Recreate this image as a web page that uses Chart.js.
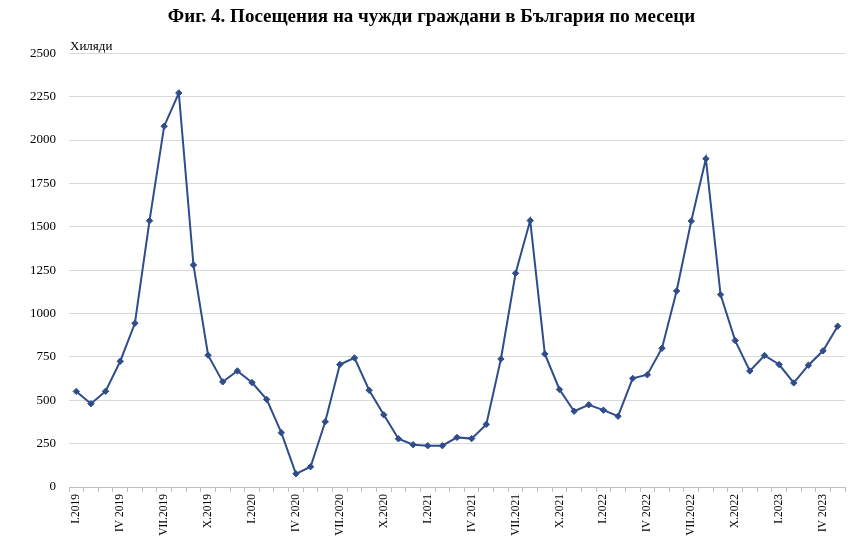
<!DOCTYPE html>
<html>
<head>
<meta charset="utf-8">
<script src="https://cdn.jsdelivr.net/npm/chart.js@4"></script>
<style>
    body { margin: 0; background: #fff; }
    #wrap { width: 863px; height: 547px; position: relative; }
</style>
</head>
<body>
<div id="wrap"><canvas id="visitsChart"></canvas></div>
<script>
// months, Jan 2019 - May 2023
const months = [
    'I.2019', 'II.2019', 'III.2019', 'IV.2019', 'V.2019', 'VI.2019', 'VII.2019', 'VIII.2019', 'IX.2019', 'X.2019', 'XI.2019', 'XII.2019',
    'I.2020', 'II.2020', 'III.2020', 'IV.2020', 'V.2020', 'VI.2020', 'VII.2020', 'VIII.2020', 'IX.2020', 'X.2020', 'XI.2020', 'XII.2020',
    'I.2021', 'II.2021', 'III.2021', 'IV.2021', 'V.2021', 'VI.2021', 'VII.2021', 'VIII.2021', 'IX.2021', 'X.2021', 'XI.2021', 'XII.2021',
    'I.2022', 'II.2022', 'III.2022', 'IV.2022', 'V.2022', 'VI.2022', 'VII.2022', 'VIII.2022', 'IX.2022', 'X.2022', 'XI.2022', 'XII.2022',
    'I.2023', 'II.2023', 'III.2023', 'IV.2023', 'V.2023'
];

// labels shown on the axis (every third month)
const tickLabels = [
    'I.2019', 'IV 2019', 'VII.2019', 'X.2019',
    'I.2020', 'IV 2020', 'VII.2020', 'X.2020',
    'I.2021', 'IV 2021', 'VII.2021', 'X.2021',
    'I.2022', 'IV 2022', 'VII.2022', 'X.2022',
    'I.2023', 'IV 2023'
];

// thousands of visits
const visits = [
    551, 480, 552, 725, 944, 1535, 2080, 2271, 1280, 760, 606, 669,
    602, 505, 313, 76, 117, 376, 706, 744, 558, 416, 278, 244,
    238, 238, 286, 279, 361, 738, 1232, 1536, 767, 562, 437, 474,
    443, 408, 626, 647, 800, 1130, 1533, 1892, 1109, 844, 669, 758,
    706, 600, 702, 785, 927
];

const yTicks = [0, 250, 500, 750, 1000, 1250, 1500, 1750, 2000, 2250, 2500];

const serif = "'Liberation Serif', 'Times New Roman', serif";

// small "Хиляди" caption above the y axis
const unitLabel = {
    id: 'unitLabel',
    afterDraw(chart) {
        const c = chart.ctx;
        c.save();
        c.font = "13px " + serif;
        c.fillStyle = '#000';
        c.textAlign = 'left';
        c.textBaseline = 'alphabetic';
        c.fillText('Хиляди', chart.chartArea.left + 1, 50);
        c.restore();
    }
};

const ctx = document.getElementById('visitsChart');

new Chart(ctx, {
    type: 'line',
    data: {
        labels: months,
        datasets: [{
            label: 'Посещения',
            data: visits,
            borderColor: '#2f4d8b',
            backgroundColor: '#2f4d8b',
            borderWidth: 2,
            pointStyle: 'rectRot',
            pointRadius: 3.2,
            pointBorderWidth: 1,
            tension: 0
        }]
    },
    plugins: [unitLabel],
    options: {
        responsive: true,
        maintainAspectRatio: false,
        animation: false,
        layout: {
            padding: { left: 18, right: 18, top: 0, bottom: 0 }
        },
        plugins: {
            legend: { display: false },
            tooltip: { enabled: false },
            title: {
                display: true,
                text: 'Фиг. 4. Посещения на чужди граждани в България по месеци',
                color: '#000',
                font: { family: serif, size: 19, weight: 'bold' },
                padding: { top: 6, bottom: 24.5 }
            }
        },
        scales: {
            x: {
                offset: true,
                grid: {
                    display: true,
                    offset: true,
                    drawOnChartArea: false,
                    drawTicks: true,
                    tickLength: 5,
                    color: '#bfbfbf'
                },
                border: { display: true, color: '#bfbfbf', width: 1 },
                ticks: {
                    autoSkip: false,
                    maxRotation: 90,
                    minRotation: 90,
                    padding: 2,
                    color: '#000',
                    font: { family: serif, size: 11.5 },
                    callback: function (value, index) {
                        return index % 3 === 0 ? tickLabels[index / 3] : '';
                    }
                },
                afterFit: function (scale) {
                    scale.height = 60;
                }
            },
            y: {
                min: 0,
                max: 2500,
                afterBuildTicks: function (scale) {
                    scale.ticks = yTicks.map(v => ({ value: v }));
                },
                grid: {
                    color: '#d9d9d9',
                    drawTicks: false
                },
                border: { display: false },
                ticks: {
                    padding: 13,
                    color: '#000',
                    font: { family: serif, size: 13 },
                    callback: function (value) {
                        return String(value);
                    }
                },
                afterFit: function (scale) {
                    scale.width = 51;
                }
            }
        }
    }
});
</script>
</body>
</html>
